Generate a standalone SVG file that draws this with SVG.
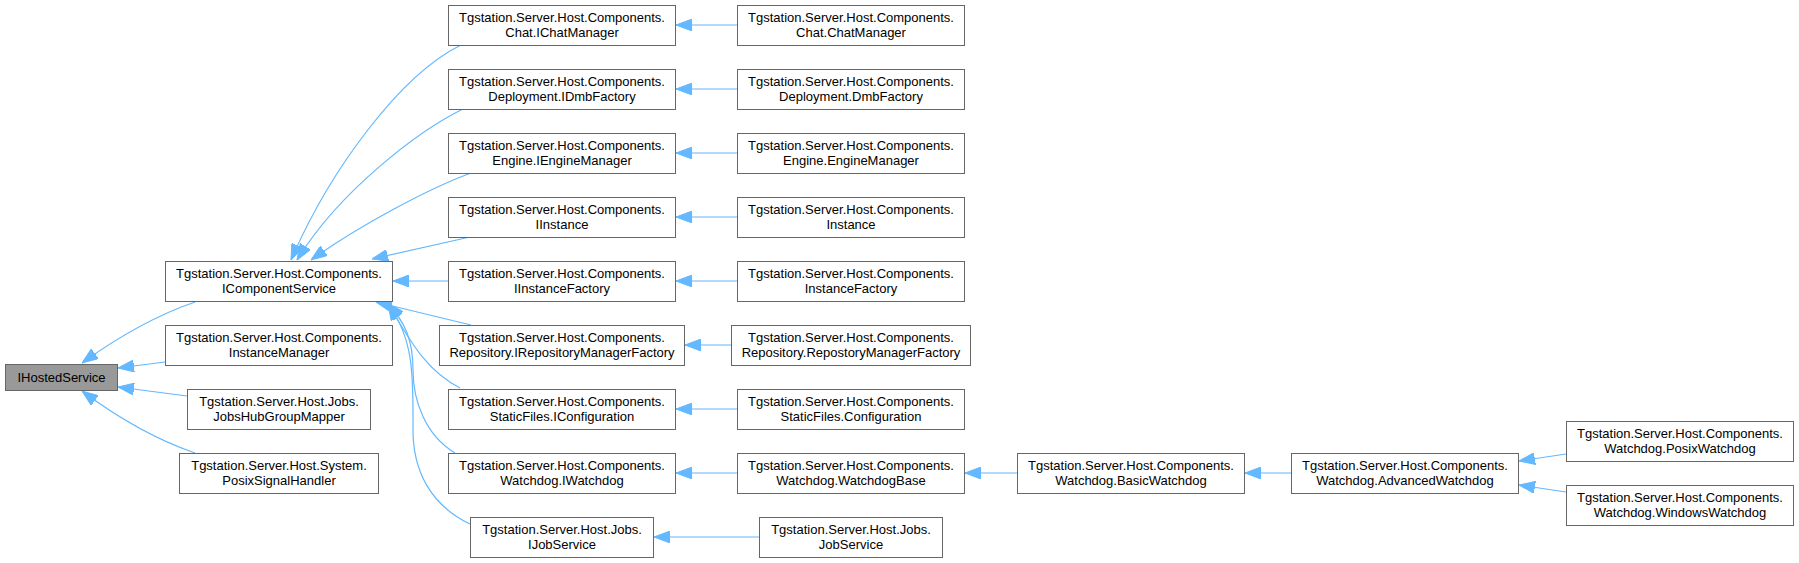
<svg xmlns="http://www.w3.org/2000/svg" width="1799" height="563" viewBox="0 0 1799 563">
<style>
.n rect{fill:#ffffff;stroke:#666666;stroke-width:1}
.n.cur rect{fill:#999999}
.n text{font-family:"Liberation Sans",Arial,Helvetica,sans-serif;font-size:13px;fill:#000000;text-anchor:middle}
.e path{fill:none;stroke:#63b8ff;stroke-width:1.2;marker-end:url(#ah)}
</style>
<defs>
<marker id="ah" viewBox="0 -6 16 12" refX="16" refY="0" markerWidth="16" markerHeight="12" markerUnits="userSpaceOnUse" orient="auto">
<path d="M0,-6 L16,0 L0,6 z" fill="#63b8ff" stroke="#63b8ff" stroke-width="1"/>
</marker>
</defs>
<rect width="1799" height="563" fill="#ffffff"/>
<g id="edges" class="e">
<path d="M195,302 C160,314 125,332 82,363"/>
<path d="M165,362 L118,368"/>
<path d="M187,396 L118,387"/>
<path d="M195,453 C160,441 125,423 82,391"/>
<path d="M461,45 C400,75 330,170 291,260"/>
<path d="M463,109 C420,130 340,190 297,260"/>
<path d="M471,173 C430,188 360,225 311,260"/>
<path d="M470,237 L372,259"/>
<path d="M448,281 L393,281"/>
<path d="M471,325 L376,302"/>
<path d="M460,388 C425,370 410,340 388,304"/>
<path d="M455,453 C425,435 413,400 413,370 C413,340 405,322 388,304"/>
<path d="M470,524 C430,505 413,470 413,430 C413,380 415,340 388,304"/>
<path d="M737,25 L676,25"/>
<path d="M737,89 L676,89"/>
<path d="M737,153 L676,153"/>
<path d="M737,217 L676,217"/>
<path d="M737,281 L676,281"/>
<path d="M731,345 L685,345"/>
<path d="M737,409 L676,409"/>
<path d="M737,473 L676,473"/>
<path d="M759,537 L654,537"/>
<path d="M1017,473 L965,473"/>
<path d="M1291,473 L1245,473"/>
<path d="M1566,454 L1519,461"/>
<path d="M1566,492 L1519,485"/>
</g>
<g id="IHostedService" class="n cur"><rect x="5.5" y="364.5" width="112" height="26"/><text x="61.5" y="382">IHostedService</text></g>
<g id="IComponentService" class="n"><rect x="165.5" y="261.5" width="227" height="40"/><text x="279" y="278">Tgstation.Server.Host.Components.</text><text x="279" y="292.5">IComponentService</text></g>
<g id="InstanceManager" class="n"><rect x="165.5" y="325.5" width="227" height="40"/><text x="279" y="342">Tgstation.Server.Host.Components.</text><text x="279" y="356.5">InstanceManager</text></g>
<g id="JobsHubGroupMapper" class="n"><rect x="187.5" y="389.5" width="183" height="40"/><text x="279" y="406">Tgstation.Server.Host.Jobs.</text><text x="279" y="420.5">JobsHubGroupMapper</text></g>
<g id="PosixSignalHandler" class="n"><rect x="179.5" y="453.5" width="199" height="40"/><text x="279" y="470">Tgstation.Server.Host.System.</text><text x="279" y="484.5">PosixSignalHandler</text></g>
<g id="IChatManager" class="n"><rect x="448.5" y="5.5" width="227" height="40"/><text x="562" y="22">Tgstation.Server.Host.Components.</text><text x="562" y="36.5">Chat.IChatManager</text></g>
<g id="IDmbFactory" class="n"><rect x="448.5" y="69.5" width="227" height="40"/><text x="562" y="86">Tgstation.Server.Host.Components.</text><text x="562" y="100.5">Deployment.IDmbFactory</text></g>
<g id="IEngineManager" class="n"><rect x="448.5" y="133.5" width="227" height="40"/><text x="562" y="150">Tgstation.Server.Host.Components.</text><text x="562" y="164.5">Engine.IEngineManager</text></g>
<g id="IInstance" class="n"><rect x="448.5" y="197.5" width="227" height="40"/><text x="562" y="214">Tgstation.Server.Host.Components.</text><text x="562" y="228.5">IInstance</text></g>
<g id="IInstanceFactory" class="n"><rect x="448.5" y="261.5" width="227" height="40"/><text x="562" y="278">Tgstation.Server.Host.Components.</text><text x="562" y="292.5">IInstanceFactory</text></g>
<g id="IRepositoryManagerFactory" class="n"><rect x="439.5" y="325.5" width="245" height="40"/><text x="562" y="342">Tgstation.Server.Host.Components.</text><text x="562" y="356.5">Repository.IRepositoryManagerFactory</text></g>
<g id="IConfiguration" class="n"><rect x="448.5" y="389.5" width="227" height="40"/><text x="562" y="406">Tgstation.Server.Host.Components.</text><text x="562" y="420.5">StaticFiles.IConfiguration</text></g>
<g id="IWatchdog" class="n"><rect x="448.5" y="453.5" width="227" height="40"/><text x="562" y="470">Tgstation.Server.Host.Components.</text><text x="562" y="484.5">Watchdog.IWatchdog</text></g>
<g id="IJobService" class="n"><rect x="470.5" y="517.5" width="183" height="40"/><text x="562" y="534">Tgstation.Server.Host.Jobs.</text><text x="562" y="548.5">IJobService</text></g>
<g id="ChatManager" class="n"><rect x="737.5" y="5.5" width="227" height="40"/><text x="851" y="22">Tgstation.Server.Host.Components.</text><text x="851" y="36.5">Chat.ChatManager</text></g>
<g id="DmbFactory" class="n"><rect x="737.5" y="69.5" width="227" height="40"/><text x="851" y="86">Tgstation.Server.Host.Components.</text><text x="851" y="100.5">Deployment.DmbFactory</text></g>
<g id="EngineManager" class="n"><rect x="737.5" y="133.5" width="227" height="40"/><text x="851" y="150">Tgstation.Server.Host.Components.</text><text x="851" y="164.5">Engine.EngineManager</text></g>
<g id="Instance" class="n"><rect x="737.5" y="197.5" width="227" height="40"/><text x="851" y="214">Tgstation.Server.Host.Components.</text><text x="851" y="228.5">Instance</text></g>
<g id="InstanceFactory" class="n"><rect x="737.5" y="261.5" width="227" height="40"/><text x="851" y="278">Tgstation.Server.Host.Components.</text><text x="851" y="292.5">InstanceFactory</text></g>
<g id="RepostoryManagerFactory" class="n"><rect x="731.5" y="325.5" width="239" height="40"/><text x="851" y="342">Tgstation.Server.Host.Components.</text><text x="851" y="356.5">Repository.RepostoryManagerFactory</text></g>
<g id="Configuration" class="n"><rect x="737.5" y="389.5" width="227" height="40"/><text x="851" y="406">Tgstation.Server.Host.Components.</text><text x="851" y="420.5">StaticFiles.Configuration</text></g>
<g id="WatchdogBase" class="n"><rect x="737.5" y="453.5" width="227" height="40"/><text x="851" y="470">Tgstation.Server.Host.Components.</text><text x="851" y="484.5">Watchdog.WatchdogBase</text></g>
<g id="JobService" class="n"><rect x="759.5" y="517.5" width="183" height="40"/><text x="851" y="534">Tgstation.Server.Host.Jobs.</text><text x="851" y="548.5">JobService</text></g>
<g id="BasicWatchdog" class="n"><rect x="1017.5" y="453.5" width="227" height="40"/><text x="1131" y="470">Tgstation.Server.Host.Components.</text><text x="1131" y="484.5">Watchdog.BasicWatchdog</text></g>
<g id="AdvancedWatchdog" class="n"><rect x="1291.5" y="453.5" width="227" height="40"/><text x="1405" y="470">Tgstation.Server.Host.Components.</text><text x="1405" y="484.5">Watchdog.AdvancedWatchdog</text></g>
<g id="PosixWatchdog" class="n"><rect x="1566.5" y="421.5" width="227" height="40"/><text x="1680" y="438">Tgstation.Server.Host.Components.</text><text x="1680" y="452.5">Watchdog.PosixWatchdog</text></g>
<g id="WindowsWatchdog" class="n"><rect x="1566.5" y="485.5" width="227" height="40"/><text x="1680" y="502">Tgstation.Server.Host.Components.</text><text x="1680" y="516.5">Watchdog.WindowsWatchdog</text></g>
</svg>
